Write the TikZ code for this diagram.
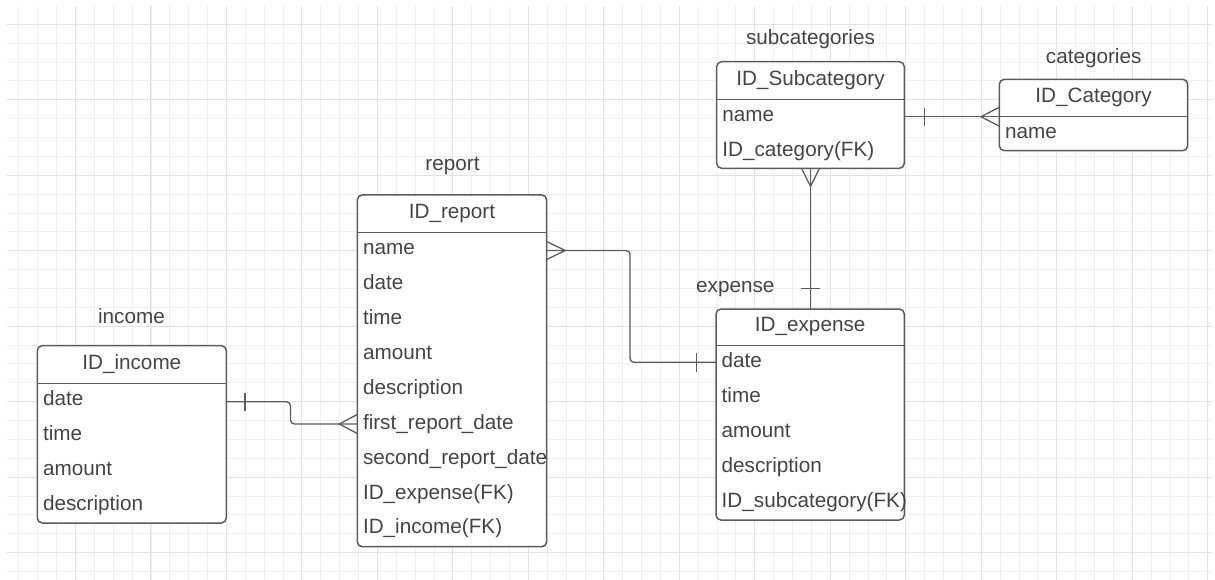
\documentclass[tikz,border=0pt]{standalone}
\usepackage{fontspec}
\setmainfont{Liberation Sans}

\definecolor{ink}{HTML}{454545}
\definecolor{edge}{HTML}{5C5C5C}
\definecolor{gridminor}{HTML}{EFEFEF}
\definecolor{gridmajor}{HTML}{E2E2E2}

\newcommand\erfont{\fontsize{20.7}{24}\selectfont}

\tikzset{
  entbox/.style={draw=edge, line width=1.5pt, rounded corners=5pt, fill=white,
    anchor=north west, inner sep=0pt, outer sep=0pt},
  divider/.style={draw=edge, line width=1.5pt},
  conn/.style={draw=edge, line width=1.3pt},
  headtxt/.style={anchor=base, inner sep=0pt, text=ink, font=\erfont},
  rowtxt/.style={anchor=base west, inner sep=0pt, text=ink, font=\erfont},
  tabletitle/.style={anchor=base, inner sep=0pt, text=ink, font=\erfont},
  minorline/.style={draw=gridminor, line width=0.9pt},
  majorline/.style={draw=gridmajor, line width=1pt},
}

% #1 name, #2 left, #3 top, #4 right, #5 bottom, #6 divider y, #7 key, #8 fields
\newcommand\erentity[8]{%
  \node[entbox, minimum width={#4-#2}, minimum height={#5-#3}] (#1) at (#2,#3) {};
  \draw[divider] (#1.west |- 0,#6) -- (#1.east |- 0,#6);
  \node[headtxt] (#1-key) at ({(#2+#4)/2},{#6-14}) {#7};
  \foreach \fld [count=\i from 0] in {#8}
    \node[rowtxt] (#1-f\i) at ({#2+5.5},{#6+22+34.9*\i}) {\fld};
}

\begin{document}
\begin{tikzpicture}[x=1pt, y=-1pt]
  \useasboundingbox[fill=white] (0,0) rectangle (1215,580);

  % background grid
  \foreach \k in {1,...,64}
    \draw[minorline] ({\k*18.87},6) -- ({\k*18.87},580);
  \foreach \k in {1,...,30}
    \draw[minorline] (7,{5.4+\k*18.87}) -- (1212,{5.4+\k*18.87});
  \foreach \k in {4,8,...,64}
    \draw[majorline] ({\k*18.87},6) -- ({\k*18.87},580);
  \foreach \k in {1,5,...,29}
    \draw[majorline] (7,{5.4+\k*18.87}) -- (1212,{5.4+\k*18.87});

  % tables
  \erentity{income}{37.3}{345.7}{226.3}{523}{383.3}{ID\_income}
    {date,time,amount,description}
  \erentity{report}{357.3}{195}{546.7}{546.7}{232.7}{ID\_report}
    {name,date,time,amount,description,first\_report\_date,second\_report\_date,ID\_expense(FK),ID\_income(FK)}
  \erentity{subcat}{716.7}{61.7}{904.3}{168.3}{99.3}{ID\_Subcategory}
    {name,ID\_category(FK)}
  \erentity{cat}{999.3}{79.3}{1187.7}{150.7}{116.7}{ID\_Category}
    {name}
  \erentity{expense}{716}{309}{904.3}{520}{345.7}{ID\_expense}
    {date,time,amount,description,ID\_subcategory(FK)}

  % table titles
  \node[tabletitle] (t-sub) at (810.5,44.5) {subcategories};
  \node[tabletitle] (t-cat) at (1093.7,63.3) {categories};
  \node[tabletitle] (t-rep) at (452.5,171) {report};
  \node[tabletitle] (t-exp) at (735.3,292.3) {expense};
  \node[tabletitle] (t-inc) at (131.5,323) {income};

  % subcategories -- categories
  \coordinate (sc-e) at (subcat.east |- 0,116.7);
  \coordinate (ct-w) at (cat.west |- 0,116.7);
  \draw[conn] (sc-e) -- (ct-w);
  \draw[conn] (sc-e) ++(20,-9) -- ++(0,18);
  \draw[conn] (ct-w) ++(0,-9.5) -- ++(-18.3,9.5) -- ++(18.3,9.5);

  % subcategories -- expense
  \coordinate (sc-s) at (subcat.south);
  \coordinate (ex-n) at (subcat.south |- expense.north);
  \draw[conn] (sc-s) -- (ex-n);
  \draw[conn] (sc-s) ++(-9,0) -- ++(9,18) -- ++(9,-18);
  \draw[conn] (ex-n) ++(-9.5,-20.7) -- ++(19,0);

  % report -- expense
  \coordinate (rp-e) at (report.east |- 0,250.5);
  \coordinate (ex-w) at (expense.west |- 0,362.3);
  \draw[conn, rounded corners=4pt] (rp-e) -- (630,250.5) |- (ex-w);
  \draw[conn] (rp-e) ++(0,-9) -- ++(18.5,9) -- ++(-18.5,9);
  \draw[conn] (ex-w) ++(-19.3,-9.3) -- ++(0,18.6);

  % income -- report
  \coordinate (in-e) at (income.east |- 0,401.7);
  \coordinate (rp-w) at (report.west |- 0,424);
  \draw[conn, rounded corners=4pt] (in-e) -- (290.5,401.7) |- (rp-w);
  \draw[conn] (in-e) ++(18.7,-9.2) -- ++(0,18.4);
  \draw[conn] (rp-w) ++(0,-9.5) -- ++(-18,9.5) -- ++(18,9.5);
\end{tikzpicture}
\end{document}
